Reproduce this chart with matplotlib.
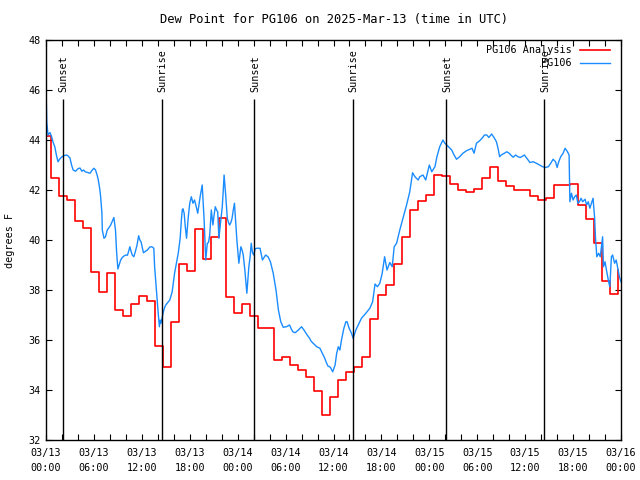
import matplotlib
matplotlib.use("Agg")
import matplotlib.pyplot as plt
from matplotlib.ticker import MultipleLocator, FuncFormatter

# hours since 2025-03-13 00:00 UTC
# analysis (hourly steps), each value holds from its start hour
red_start = [0.0] + [k + 0.6 for k in range(72)]
red_vals = [44.15, 42.47, 41.75, 41.6, 40.76, 40.48, 38.7, 37.92, 38.68, 37.2,
            36.95, 37.45, 37.76, 37.55, 35.76, 34.9, 36.7, 39.03, 38.76, 40.43,
            39.25, 40.13, 40.87, 37.73, 37.07, 37.43, 36.96, 36.47, 36.47, 35.2,
            35.32, 35.01, 34.8, 34.51, 33.95, 32.99, 33.71, 34.4, 34.73, 34.9,
            35.33, 36.84, 37.81, 38.21, 39.04, 40.1, 41.2, 41.57, 41.8, 42.6,
            42.55, 42.24, 41.99, 41.92, 42.03, 42.47, 42.91, 42.37, 42.15, 42.0,
            42.0, 41.75, 41.6, 41.67, 42.2, 42.2, 42.25, 41.4, 40.84, 39.87,
            38.35, 37.83, 38.8]

# station observations
obs_hours = [0.0, 0.1, 0.25, 0.5, 0.7, 0.9, 1.1, 1.3, 1.5, 1.75, 2.0, 2.3, 2.6, 2.8,
             3.0, 3.2, 3.4, 3.7, 4.0, 4.25, 4.5, 4.7, 4.9, 5.2, 5.5, 5.8, 6.0, 6.2,
             6.4, 6.55, 6.75, 6.85, 7.0, 7.05, 7.26, 7.45, 7.67, 7.9, 8.1, 8.3, 8.5,
             8.7, 8.85, 9.0, 9.2, 9.35, 9.55, 9.76, 10.0, 10.2, 10.35, 10.5, 10.65,
             10.8, 11.0, 11.2, 11.4, 11.6, 11.75, 11.9, 12.05, 12.2, 12.45, 12.7,
             13.0, 13.25, 13.5, 13.6, 13.85, 14.05, 14.2, 14.3, 14.4, 14.55, 14.7,
             14.85, 15.0, 15.25, 15.5, 15.8, 15.95, 16.1, 16.35, 16.56, 16.8, 16.95,
             17.06, 17.15, 17.3, 17.45, 17.6, 17.8, 18.0, 18.2, 18.4, 18.6, 18.8,
             19.0, 19.15, 19.3, 19.45, 19.56, 19.7, 19.8, 20.0, 20.2, 20.35, 20.5,
             20.7, 20.9, 21.05, 21.2, 21.35, 21.5, 21.65, 21.9, 22.07, 22.2, 22.3,
             22.5, 22.7, 22.85, 23.0, 23.15, 23.3, 23.45, 23.6, 23.75, 23.9, 24.15,
             24.4, 24.55, 24.7, 24.9, 25.15, 25.4, 25.55, 25.7, 25.85, 26.0, 26.2,
             26.4, 26.8, 27.1, 27.3, 27.5, 27.8, 28.1, 28.45, 28.8, 29.1, 29.4,
             29.7, 30.1, 30.5, 30.7, 30.9, 31.2, 31.6, 32.0, 32.3, 32.7, 33.0, 33.2,
             33.45, 33.9, 34.3, 34.6, 34.9, 35.1, 35.3, 35.6, 35.9, 36.2, 36.4,
             36.6, 36.8, 37.0, 37.3, 37.55, 37.7, 37.96, 38.25, 38.46, 38.8, 39.2,
             39.5, 40.05, 40.55, 40.9, 41.2, 41.5, 41.8, 42.1, 42.4, 42.7, 43.05,
             43.35, 43.6, 43.9, 44.3, 44.7, 45.15, 45.55, 45.9, 46.2, 46.6, 46.8,
             47.2, 47.55, 48.0, 48.3, 48.7, 48.95, 49.3, 49.7, 49.94, 50.4, 50.8,
             51.1, 51.4, 51.8, 52.2, 52.65, 53.07, 53.35, 53.6, 53.9, 54.3, 54.6,
             54.9, 55.2, 55.45, 55.8, 56.1, 56.4, 56.6, 56.8, 57.0, 57.4, 57.7,
             58.0, 58.2, 58.5, 58.8, 59.1, 59.4, 59.9, 60.3, 60.6, 61.0, 61.4,
             61.8, 62.2, 62.5, 62.9, 63.2, 63.5, 63.8, 64.0, 64.2, 64.45, 64.75,
             65.0, 65.3, 65.5, 65.6, 65.8, 66.0, 66.2, 66.4, 66.6, 66.8, 67.0,
             67.2, 67.5, 67.7, 67.9, 68.1, 68.3, 68.5, 68.7, 68.8, 68.97, 69.2,
             69.4, 69.7, 69.8, 70.0, 70.25, 70.45, 70.6, 70.8, 70.95, 71.2, 71.4,
             71.6, 71.8, 72.0]
obs_vals = [46.1, 44.7, 44.2, 44.3, 44.13, 43.9, 43.73, 43.4, 43.13, 43.25, 43.33,
            43.38, 43.4, 43.35, 43.28, 43.0, 42.8, 42.75, 42.85, 42.88, 42.75, 42.8,
            42.73, 42.7, 42.67, 42.8, 42.87, 42.8, 42.6, 42.4, 42.0, 41.7, 41.08,
            40.4, 40.07, 40.13, 40.4, 40.5, 40.6, 40.75, 40.9, 40.4, 39.47, 38.84,
            39.05, 39.2, 39.3, 39.36, 39.4, 39.39, 39.55, 39.73, 39.55, 39.4, 39.33,
            39.55, 39.8, 40.17, 40.0, 39.93, 39.7, 39.49, 39.55, 39.6, 39.72, 39.73,
            39.67, 38.93, 37.87, 37.07, 36.53, 36.8, 36.67, 36.9, 37.13, 37.3, 37.4,
            37.5, 37.6, 37.93, 38.3, 38.67, 39.1, 39.47, 40.07, 40.8, 41.2, 41.25,
            41.07, 40.5, 40.07, 40.87, 41.47, 41.73, 41.47, 41.6, 41.35, 41.07,
            41.4, 41.73, 42.0, 42.2, 41.4, 40.8, 39.2, 39.87, 39.9, 40.2, 41.2,
            40.6, 41.0, 41.33, 41.2, 41.13, 40.07, 40.8, 41.33, 42.0, 42.6, 41.8,
            40.87, 40.7, 40.6, 40.7, 40.87, 41.2, 41.47, 40.7, 40.0, 39.07, 39.73,
            39.6, 39.4, 38.8, 37.87, 38.93, 39.3, 39.87, 39.5, 39.4, 39.65, 39.67,
            39.67, 39.2, 39.3, 39.4, 39.33, 39.13, 38.67, 38.0, 37.2, 36.73, 36.51,
            36.53, 36.6, 36.45, 36.33, 36.29, 36.4, 36.53, 36.4, 36.2, 36.07, 35.95,
            35.87, 35.73, 35.67, 35.47, 35.27, 35.1, 34.96, 34.91, 34.73, 35.0,
            35.47, 35.73, 35.6, 36.0, 36.47, 36.73, 36.73, 36.47, 36.27, 36.07,
            36.4, 36.67, 36.87, 37.07, 37.27, 37.53, 38.24, 38.13, 38.27, 38.67,
            39.33, 38.8, 39.1, 38.93, 39.73, 39.87, 40.4, 40.87, 41.4, 41.93, 42.69,
            42.53, 42.4, 42.53, 42.6, 42.4, 43.0, 42.73, 42.93, 43.33, 43.73, 44.0,
            43.87, 43.73, 43.6, 43.4, 43.23, 43.33, 43.47, 43.57, 43.63, 43.67,
            43.47, 43.87, 43.97, 44.07, 44.2, 44.2, 44.1, 44.24, 44.1, 43.93, 43.67,
            43.33, 43.4, 43.47, 43.53, 43.47, 43.4, 43.31, 43.4, 43.33, 43.3, 43.4,
            43.23, 43.1, 43.13, 43.07, 43.0, 42.93, 42.9, 42.93, 43.07, 43.23,
            43.13, 42.9, 43.13, 43.33, 43.47, 43.67, 43.53, 43.4, 41.53, 41.87,
            41.6, 41.73, 41.8, 41.47, 41.53, 41.67, 41.53, 41.63, 41.4, 41.53,
            41.27, 41.47, 41.67, 40.87, 40.13, 39.33, 39.47, 39.33, 40.13, 38.93,
            39.13, 38.67, 38.33, 38.13, 39.33, 39.4, 39.07, 39.2, 38.87, 38.53,
            38.33]

sun_hours = [2.07, 14.47, 26.09, 38.38, 50.12, 62.4]
sun_labels = ["Sunset", "Sunrise", "Sunset", "Sunrise", "Sunset", "Sunrise"]

plt.rcParams['font.family'] = ['DejaVu Sans Mono']
plt.rcParams['font.size'] = 7.3

fig = plt.figure(figsize=(6.4, 4.8), dpi=100)
ax = fig.add_axes([46 / 640, 40 / 480, 575 / 640, 400 / 480])

ax.step(red_start, red_vals, where='post', color='#ff0000', lw=1.2,
        label='PG106 Analysis')
ax.plot(obs_hours, obs_vals, color='#1a8cff', lw=1.0, label='PG106')

# sunrise / sunset markers
ax.vlines(sun_hours, 32, 45.65, color='black', lw=1.0)
for h, lab in zip(sun_hours, sun_labels):
    ax.text(h + 0.1, 45.92, lab, rotation=90, ha='center', va='bottom')

ax.set_xlim(0, 72)
ax.set_ylim(32, 48)


def fmt_time(h, pos):
    h = int(round(h))
    return "03/%02d\n%02d:00" % (13 + h // 24, h % 24)


ax.xaxis.set_major_locator(MultipleLocator(6))
ax.xaxis.set_minor_locator(MultipleLocator(2))
ax.xaxis.set_major_formatter(FuncFormatter(fmt_time))
ax.yaxis.set_major_locator(MultipleLocator(2))
ax.tick_params(which='both', direction='in', top=True, right=True,
               length=4, width=0.8)
ax.tick_params(axis='x', pad=6)
ax.tick_params(axis='y', pad=4)
for t in ax.get_xticklabels():
    t.set_linespacing(1.6)
for s in ax.spines.values():
    s.set_linewidth(1.0)

ax.legend(loc='upper right', bbox_to_anchor=(0.99, 1.0), frameon=False,
          markerfirst=False, alignment='right', handlelength=3.0,
          handletextpad=0.8, labelspacing=0.3, borderaxespad=0.1)

ax.set_title("Dew Point for PG106 on 2025-Mar-13 (time in UTC)", pad=12)
fig.text(10 / 640, 0.5, "degrees F", rotation=90, ha='center', va='center')

fig.savefig("out.png", dpi=100)
